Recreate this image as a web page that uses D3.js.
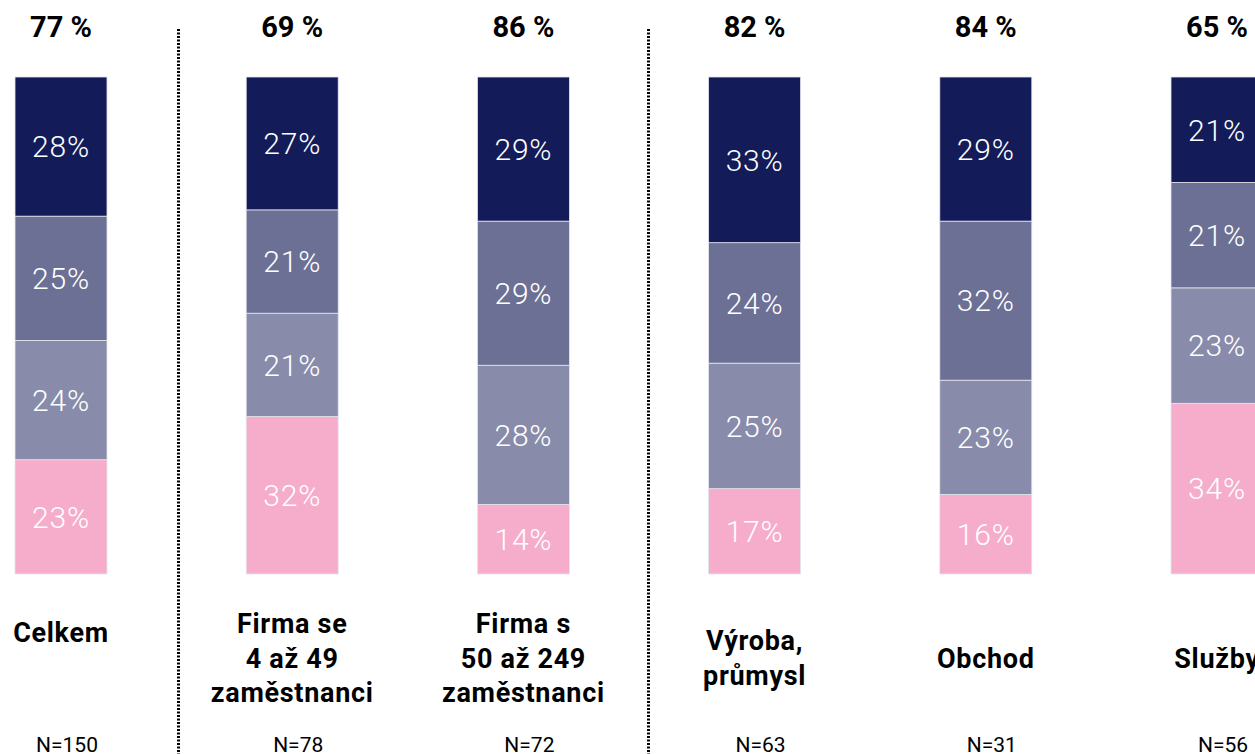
<!DOCTYPE html>
<html lang="cs">
<head>
  <meta charset="UTF-8">
  <title>Podíl firem</title>
  <script src="https://d3js.org/d3.v7.min.js"></script>
  <style>
    body {
      margin: 0;
      background: #fff;
      font-family: Roboto, "Noto Sans", sans-serif;
      overflow: hidden;
    }
  </style>
</head>
<body>
  <div id="chart"></div>

  <script>
    const categories = ["Celkem", "Firma se 4 až 49 zaměstnanci", "Firma s 50 až 249 zaměstnanci", "Výroba, průmysl", "Obchod", "Služby"];
    const categoryLines = [
      ["Celkem"],
      ["Firma se", "4 až 49", "zaměstnanci"],
      ["Firma s", "50 až 249", "zaměstnanci"],
      ["Výroba,", "průmysl"],
      ["Obchod"],
      ["Služby"]
    ];
    const totals = ["77 %", "69 %", "86 %", "82 %", "84 %", "65 %"];
    const counts = ["N=150", "N=78", "N=72", "N=63", "N=31", "N=56"];

    // series from top of bar to bottom
    const darkValues  = [28, 27, 29, 33, 29, 21];
    const midValues   = [25, 21, 29, 24, 32, 21];
    const lightValues = [24, 21, 28, 25, 23, 23];
    const pinkValues  = [23, 32, 14, 17, 16, 34];

    const seriesKeys = ["pink", "light", "mid", "dark"]; // stacking order, bottom first
    const seriesColors = { dark: "#131b58", mid: "#6b7094", light: "#888baa", pink: "#f5adcb" };

    const width = 1255, height = 754;
    const barWidth = 92;

    const rows = categories.map((c, i) => ({
      category: c,
      dark: darkValues[i],
      mid: midValues[i],
      light: lightValues[i],
      pink: pinkValues[i]
    }));

    const stacked = d3.stack()
      .keys(seriesKeys)
      .offset(d3.stackOffsetExpand)(rows);

    const x = d3.scalePoint()
      .domain(categories)
      .range([61, 1217]);

    const y = d3.scaleLinear()
      .domain([0, 1])
      .range([574, 77]);

    const svg = d3.select("#chart").append("svg")
      .attr("width", width)
      .attr("height", height);

    // dotted dividers after "Celkem" and after the company-size group
    const dividers = [{ after: 0, nudge: 1 }, { after: 2, nudge: 9 }];
    const divX = d => Math.round((x(categories[d.after]) + x(categories[d.after + 1])) / 2 + d.nudge) + 0.5;
    svg.append("g")
      .selectAll("line")
      .data(dividers)
      .join("line")
        .attr("x1", divX)
        .attr("x2", divX)
        .attr("y1", 29)
        .attr("y2", height)
        .attr("stroke", "#000")
        .attr("stroke-width", 3)
        .attr("stroke-dasharray", "2,1.5");

    const layer = svg.append("g")
      .selectAll("g")
      .data(stacked)
      .join("g")
        .attr("fill", s => seriesColors[s.key]);

    layer.selectAll("rect")
      .data(s => s)
      .join("rect")
        .attr("x", d => x(d.data.category) - barWidth / 2)
        .attr("y", d => y(d[1]))
        .attr("width", barWidth)
        .attr("height", d => y(d[0]) - y(d[1]))
        .attr("stroke", "#e4e5ee")
        .attr("stroke-width", 0.8);

    layer.selectAll("text")
      .data(s => s.map(d => ({ d, key: s.key })))
      .join("text")
        .attr("x", o => x(o.d.data.category))
        .attr("y", o => (y(o.d[0]) + y(o.d[1])) / 2)
        .attr("dy", "0.36em")
        .attr("text-anchor", "middle")
        .attr("fill", "#fff")
        .attr("font-size", 30)
        .attr("font-weight", 300)
        .attr("letter-spacing", 0.8)
        .text(o => o.d.data[o.key] + "%");

    // totals above bars
    svg.append("g")
      .selectAll("text")
      .data(categories)
      .join("text")
        .attr("x", d => x(d))
        .attr("y", 27)
        .attr("dy", "0.36em")
        .attr("text-anchor", "middle")
        .attr("font-size", 29)
        .attr("font-weight", 700)
        .attr("fill", "#000")
        .text((d, i) => totals[i]);

    // category labels, centred on a common line (Celkem sits a little higher)
    const lineHeight = 34.5;
    const labelMid = i => i === 0 ? 632 : 658;
    const cat = svg.append("g")
      .selectAll("text")
      .data(categories)
      .join("text")
        .attr("text-anchor", "middle")
        .attr("font-size", 27)
        .attr("font-weight", 700)
        .attr("letter-spacing", 0.7)
        .attr("fill", "#000");

    cat.selectAll("tspan")
      .data((d, i) => categoryLines[i].map((t, j, arr) => ({
        t, cx: x(d), cy: labelMid(i) + (j - (arr.length - 1) / 2) * lineHeight
      })))
      .join("tspan")
        .attr("x", o => o.cx)
        .attr("y", o => o.cy)
        .attr("dy", "0.36em")
        .text(o => o.t);

    // sample sizes
    svg.append("g")
      .selectAll("text")
      .data(categories)
      .join("text")
        .attr("x", d => x(d) + 6)
        .attr("y", 744)
        .attr("dy", "0.36em")
        .attr("text-anchor", "middle")
        .attr("font-size", 21)
        .attr("fill", "#000")
        .text((d, i) => counts[i]);
  </script>
</body>
</html>
